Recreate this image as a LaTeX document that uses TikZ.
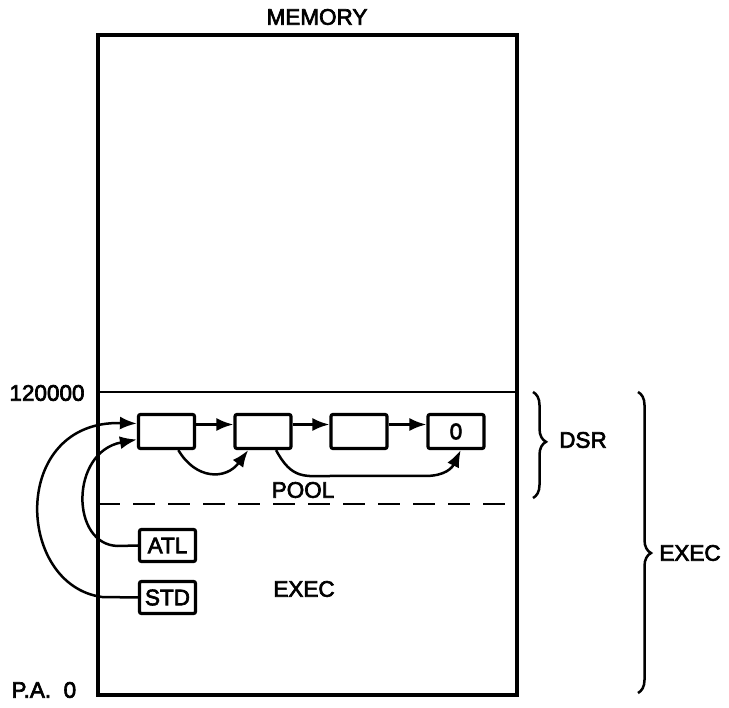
\documentclass[tikz,border=0pt]{standalone}
\usepackage{fontspec}
\setmainfont{Liberation Sans}[BoldFont=Liberation Sans, BoldFeatures={FakeBold=3}]
\usetikzlibrary{arrows.meta,calc,decorations.pathreplacing}
\begin{document}
\begin{tikzpicture}[x=1pt,y=-1pt,
  every node/.style={font=\fontsize{22.5}{26}\selectfont\bfseries},
  cell/.style={draw, line width=3.2pt, rounded corners=2pt, minimum width=56pt, minimum height=34pt, inner sep=0pt},
  arr/.style={line width=2.5pt, -{Latex[length=17pt,width=13pt]}},
  bracestyle/.style={line width=2.5pt, decorate, decoration={brace, amplitude=13pt}}]
\useasboundingbox (0,0) rectangle (729,708);
% memory rectangle
\draw[line width=3.2pt] (98,35) rectangle (517,695);
\node (mem) at (317,17) {MEMORY};
\draw[line width=2.2pt] (98,392) -- (517,392);
\draw[line width=2.7pt, dash pattern=on 22pt off 13pt] (98,504) -- (517,504);
\node (addr) at (47,393) {120000};
\node[anchor=west] (pa) at (8,690) {P.A.\ \ 0};
% chain cells
\node[cell] (b1) at (166.5,431.5) {};
\node[cell] (b2) at (263,431.5) {};
\node[cell] (b3) at (359,431.5) {};
\node[cell] (b4) at (456,431.5) {0};
\draw[arr] ([yshift=7pt]b1.east) -- ([yshift=7pt]b2.west);
\draw[arr] ([yshift=7pt]b2.east) -- ([yshift=7pt]b3.west);
\draw[arr] ([yshift=7pt]b3.east) -- ([yshift=7pt]b4.west);
\draw[arr] ($(b1.south west)!0.7!(b1.south east)$) .. controls (196,480) and (226,480) .. ($(b2.south west)!0.25!(b2.south east)$);
\draw[arr] ($(b2.south west)!0.72!(b2.south east)$) .. controls (292,480) and (305,476) .. (330,476) -- (425,476) .. controls (445,476) and (452,468) .. ($(b4.south west)!0.58!(b4.south east)$);
\node (pool) at (303,490) {POOL};
% ATL / STD
\node[cell, minimum height=32pt] (atl) at (167.5,545.5) {ATL};
\node[cell, minimum height=32pt] (std) at (167.5,597.5) {STD};
\coordinate (atlbend) at (118,546);
\coordinate (stdbend) at (102,597);
\draw[arr] (atl.west) -- (atlbend) .. controls (70,545) and (70,452) .. ([yshift=-8pt]b1.west);
\draw[arr] (std.west) -- (stdbend) .. controls (15,585) and (10,420) .. ([yshift=8pt]b1.west);
\node (exin) at (304,589) {EXEC};
% braces
\coordinate (d1) at (533,392);
\coordinate (d2) at (533,498);
\draw[bracestyle, decoration={aspect=0.47}] (d1) -- (d2);
\node (dsr) at (583,440) {DSR};
\coordinate (e1) at (638,392);
\coordinate (e2) at (638,693);
\draw[bracestyle, decoration={aspect=0.535}] (e1) -- (e2);
\node (exec) at (690,553) {EXEC};
\end{tikzpicture}
\end{document}
